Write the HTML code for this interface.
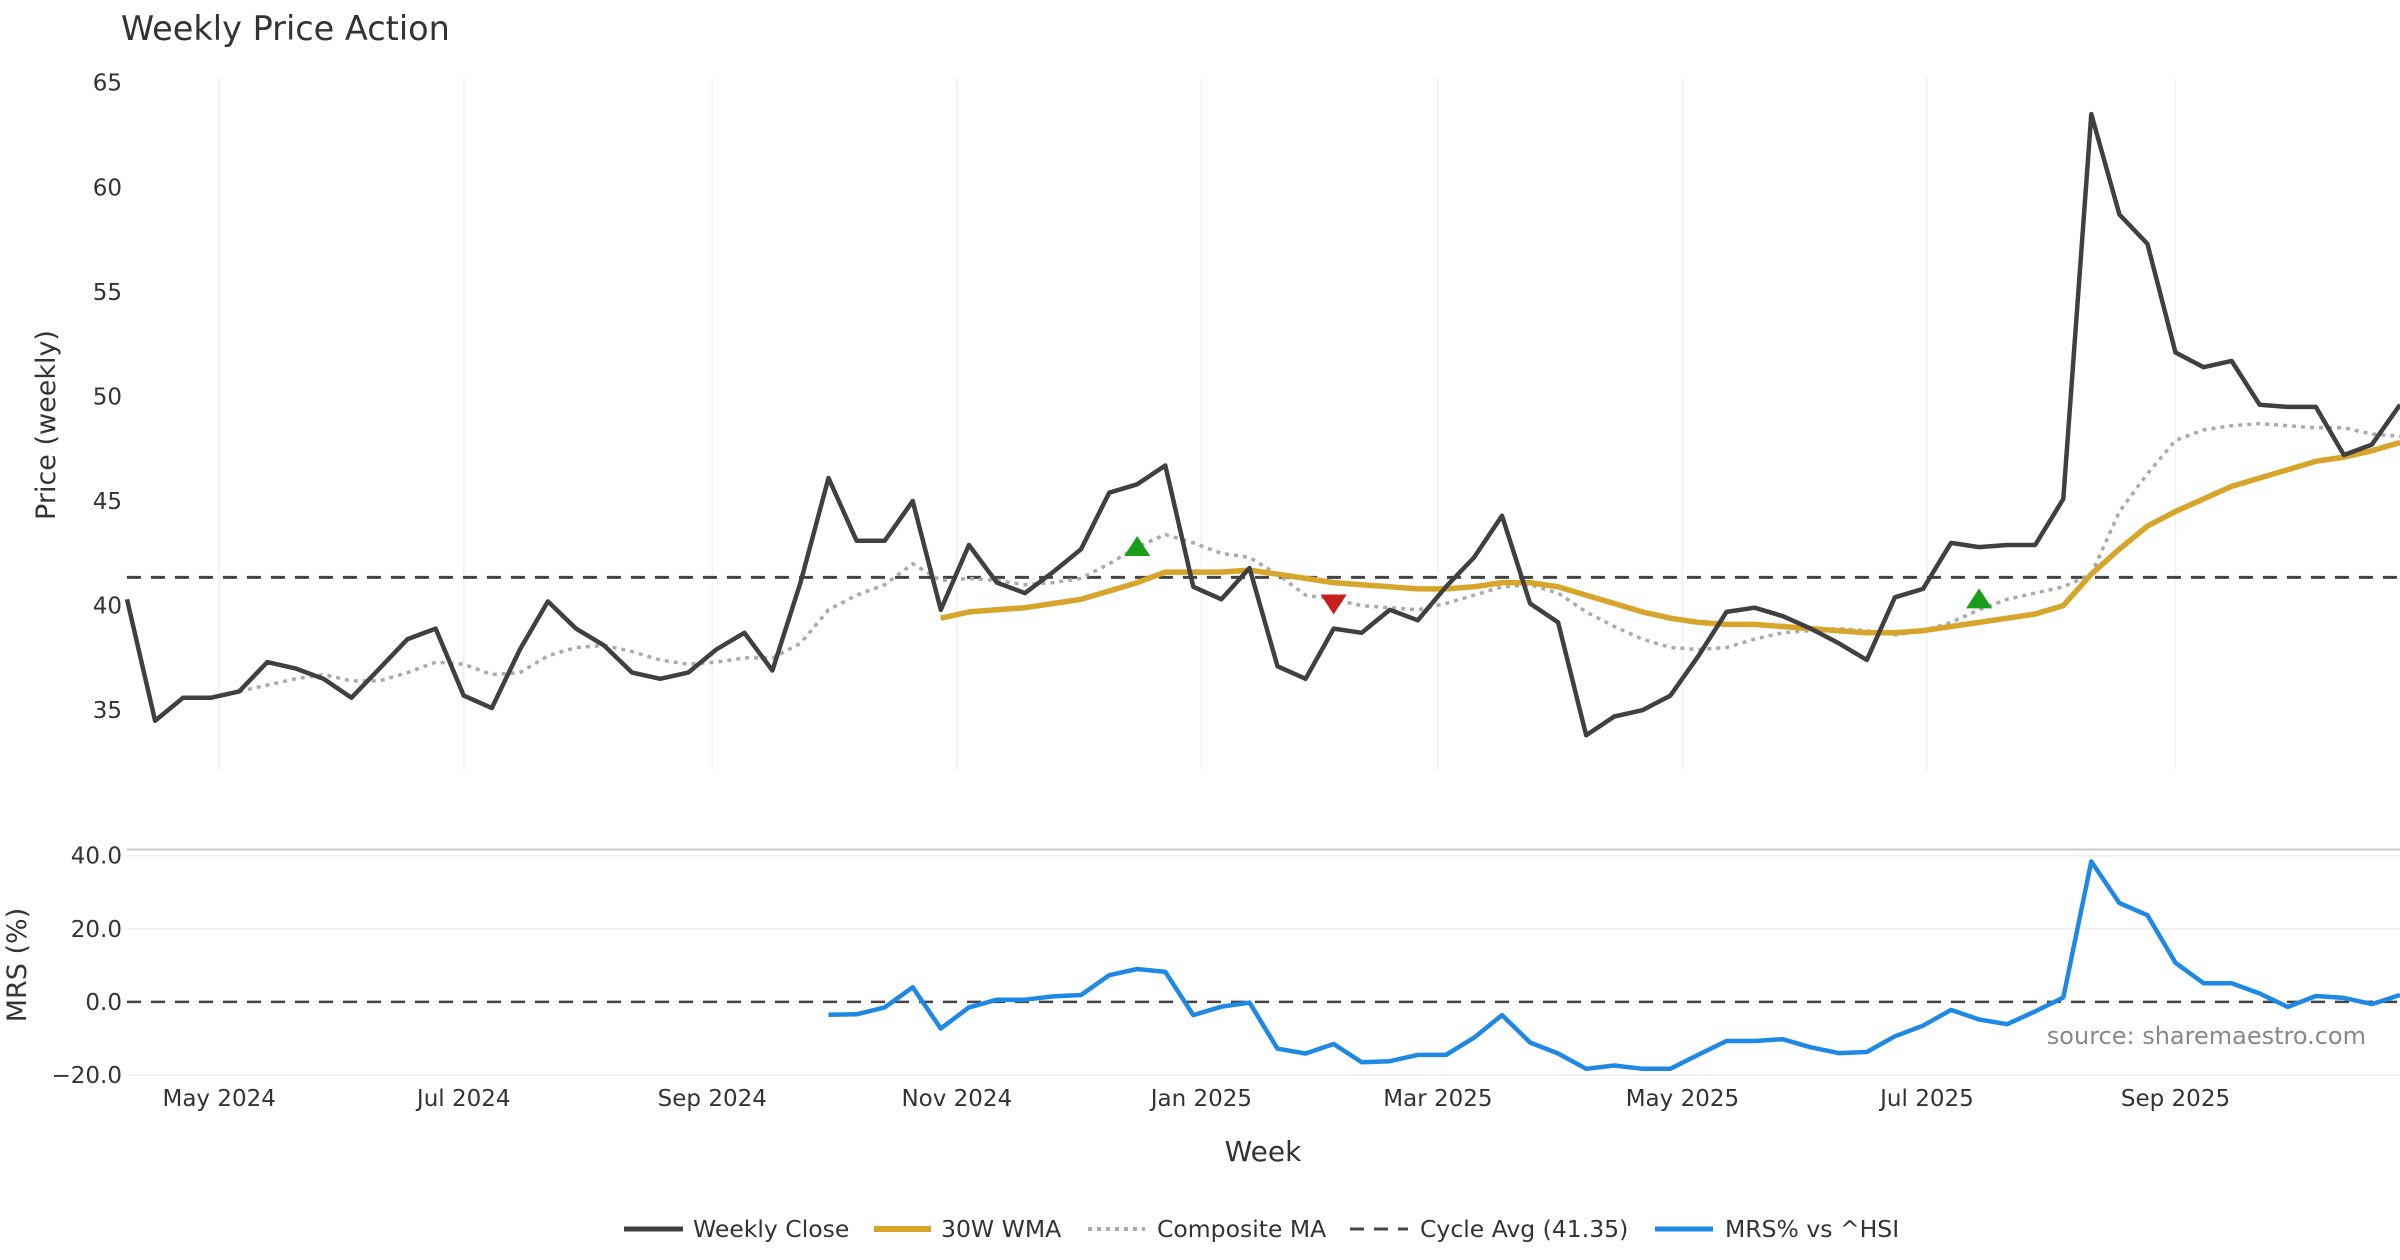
<!DOCTYPE html>
<html><head><meta charset="utf-8">
<style>
html,body{margin:0;padding:0;background:#fff;}
svg{display:block;font-family:"DejaVu Sans","Liberation Sans",sans-serif;}
</style></head>
<body>
<svg id="chart" width="2400" height="1260" viewBox="0 0 2400 1260" xmlns="http://www.w3.org/2000/svg">
<rect width="2400" height="1260" fill="#fff"/>
<text x="121" y="40" font-size="33.5" fill="#333">Weekly Price Action</text>
<g id="grid"></g>
<g id="marks"></g>
<g id="axes"></g>
<text x="1263" y="1161" font-size="28" fill="#333" text-anchor="middle">Week</text>
<text transform="translate(55,425) rotate(-90)" font-size="27" fill="#333" text-anchor="middle">Price (weekly)</text>
<text transform="translate(26,965) rotate(-90)" font-size="27" fill="#333" text-anchor="middle">MRS (%)</text>
<text x="2366" y="1044" font-size="24" fill="#888" text-anchor="end">source: sharemaestro.com</text>
<g id="legend">
  <line x1="624" y1="1229" x2="683" y2="1229" stroke="#404040" stroke-width="5"/>
  <text x="693" y="1237" font-size="23.5" fill="#333">Weekly Close</text>
  <line x1="874" y1="1229" x2="931" y2="1229" stroke="#d6a52a" stroke-width="6"/>
  <text x="941" y="1237" font-size="23.5" fill="#333">30W WMA</text>
  <line x1="1088" y1="1229" x2="1145" y2="1229" stroke="#aaa" stroke-width="4" stroke-dasharray="4,5"/>
  <text x="1157" y="1237" font-size="23.5" fill="#333">Composite MA</text>
  <line x1="1350" y1="1229" x2="1408" y2="1229" stroke="#444" stroke-width="3" stroke-dasharray="14,10"/>
  <text x="1420" y="1237" font-size="23.5" fill="#333">Cycle Avg (41.35)</text>
  <line x1="1655" y1="1229" x2="1713" y2="1229" stroke="#1e88e5" stroke-width="5"/>
  <text x="1725" y="1237" font-size="23.5" fill="#333">MRS% vs ^HSI</text>
</g>
</svg>
<script>
const closeVals=[40.3,34.5,35.6,35.6,35.9,37.3,37.0,36.5,35.6,37.0,38.4,38.9,35.7,35.1,37.9,40.2,38.9,38.1,36.8,36.5,36.8,37.9,38.7,36.9,41.1,46.1,43.1,43.1,45.0,39.8,42.9,41.1,40.6,41.6,42.7,45.4,45.8,46.7,40.9,40.3,41.8,37.1,36.5,38.9,38.7,39.8,39.3,40.9,42.3,44.3,40.1,39.2,33.8,34.7,35.0,35.7,37.6,39.7,39.9,39.5,38.9,38.2,37.4,40.4,40.8,43.0,42.8,42.9,42.9,45.1,63.5,58.7,57.3,52.1,51.4,51.7,49.6,49.5,49.5,47.2,47.7,49.6];
const wmaStart=29;
const wmaVals=[39.4,39.7,39.8,39.9,40.1,40.3,40.7,41.1,41.6,41.6,41.6,41.7,41.5,41.3,41.1,41.0,40.9,40.8,40.8,40.9,41.1,41.1,40.9,40.5,40.1,39.7,39.4,39.2,39.1,39.1,39.0,38.9,38.8,38.7,38.7,38.8,39.0,39.2,39.4,39.6,40.0,41.5,42.7,43.8,44.5,45.1,45.7,46.1,46.5,46.9,47.1,47.4,47.8];
const compStart=4;
const compVals=[35.9,36.2,36.5,36.7,36.4,36.4,36.8,37.3,37.2,36.7,36.8,37.6,38.0,38.1,37.8,37.4,37.2,37.3,37.5,37.5,38.2,39.8,40.5,41.0,42.0,41.2,41.3,41.2,41.0,41.1,41.3,42.0,42.8,43.4,43.0,42.5,42.3,41.5,40.5,40.3,40.0,39.9,39.8,40.1,40.5,40.9,41.0,40.6,39.7,39.0,38.4,38.0,37.9,38.0,38.4,38.7,38.8,38.9,38.8,38.6,38.8,39.2,39.8,40.3,40.6,40.9,41.5,44.5,46.3,47.9,48.4,48.6,48.7,48.6,48.5,48.5,48.2,48.1];
const mrsStart=25;
const mrsVals=[-3.5,-3.4,-1.5,4.0,-7.3,-1.5,0.6,0.6,1.5,1.9,7.3,9.0,8.2,-3.6,-1.3,-0.2,-12.8,-14.1,-11.5,-16.5,-16.2,-14.5,-14.5,-9.8,-3.6,-11.1,-14.1,-18.3,-17.4,-18.3,-18.3,-14.4,-10.7,-10.7,-10.2,-12.4,-14.0,-13.7,-9.4,-6.5,-2.2,-4.8,-6.1,-2.6,1.2,38.4,27.0,23.7,10.7,5.1,5.1,2.3,-1.4,1.6,1.1,-0.6,1.9];
const buyIdx=[36,66];
const buyVals=[42.8,40.3];
const sellIdx=[43];
const sellVals=[40.1];
const cycleAvg=41.35;
const priceTicks=[35,40,45,50,55,60,65];
const mrsTicks=[-20,0,20,40];
const mrsTickLabels=["\u221220.0","0.0","20.0","40.0"];
const dateTicks=["2024-05-01","2024-07-01","2024-09-01","2024-11-01","2025-01-01","2025-03-01","2025-05-01","2025-07-01","2025-09-01"];
const dateTickLabels=["May 2024","Jul 2024","Sep 2024","Nov 2024","Jan 2025","Mar 2025","May 2025","Jul 2025","Sep 2025"];
const firstWeek="2024-04-08";

const NS="http://www.w3.org/2000/svg";
const X0=127,X1=2400,N=closeVals.length;
const xi=i=>X0+i*(X1-X0)/(N-1);
const t0=Date.parse(firstWeek);
const xd=d=>xi((Date.parse(d)-t0)/(7*86400000));
const yp=v=>82.7+(65-v)*(710.2-82.7)/30;
const ym=v=>1001.9-v*(1001.9-855.6)/40;
function el(tag,attrs,parent){const e=document.createElementNS(NS,tag);for(const k in attrs)e.setAttribute(k,attrs[k]);parent.appendChild(e);return e;}
const grid=document.getElementById('grid'),marks=document.getElementById('marks'),axes=document.getElementById('axes');

dateTicks.forEach((d,k)=>{
  const x=xd(d);
  const g=el('line',{x1:x,y1:78,x2:x,y2:770,stroke:'#edf2f2','stroke-width':1.5},grid);
  
  
  const t=el('text',{x:x,y:1106,'font-size':23,fill:'#333','text-anchor':'middle'},axes);
  t.textContent=dateTickLabels[k];
  
  
});
priceTicks.forEach(v=>{
  const t=el('text',{x:122,y:yp(v)+8,'font-size':23,fill:'#333','text-anchor':'end'},axes);
  t.textContent=v;
  
  
});
const sep=el('line',{x1:127,y1:849.5,x2:2400,y2:849.5,stroke:'#ccc','stroke-width':2},grid);


mrsTicks.forEach((v,k)=>{
  if(v!==0){const g=el('line',{x1:127,y1:ym(v),x2:2400,y2:ym(v),stroke:'#eeeeee','stroke-width':1.5},grid);
  
  }
  const t=el('text',{x:122,y:ym(v)+8,'font-size':23,fill:'#333','text-anchor':'end'},axes);
  t.textContent=mrsTickLabels[k];
  
  
});
const cyc=el('line',{x1:127,y1:yp(cycleAvg),x2:2400,y2:yp(cycleAvg),stroke:'#444','stroke-width':3,'stroke-dasharray':'14,10'},marks);


const z=el('line',{x1:127,y1:ym(0),x2:2400,y2:ym(0),stroke:'#444','stroke-width':2.5,'stroke-dasharray':'14,10'},marks);



function pts(vals,start,yf){return vals.map((v,i)=>xi(start+i).toFixed(1)+','+yf(v).toFixed(1)).join(' ');}
const comp=el('polyline',{points:pts(compVals,compStart,yp),fill:'none',stroke:'#aaa','stroke-width':3.5,'stroke-dasharray':'4,5'},marks);


const wma=el('polyline',{points:pts(wmaVals,wmaStart,yp),fill:'none',stroke:'#d6a52a','stroke-width':5.5,'stroke-linejoin':'round'},marks);


const cl=el('polyline',{points:pts(closeVals,0,yp),fill:'none',stroke:'#404040','stroke-width':4.5,'stroke-linejoin':'round'},marks);


const mr=el('polyline',{points:pts(mrsVals,mrsStart,ym),fill:'none',stroke:'#1e88e5','stroke-width':4.5,'stroke-linejoin':'round'},marks);


buyIdx.forEach((i,k)=>{
  const x=xi(i),y=yp(buyVals[k]);
  const p=el('polygon',{points:`${x-13},${y+9} ${x+13},${y+9} ${x},${y-11}`,fill:'#1a9e1a'},marks);
  
  
});
sellIdx.forEach((i,k)=>{
  const x=xi(i),y=yp(sellVals[k]);
  const p=el('polygon',{points:`${x-13},${y-9} ${x+13},${y-9} ${x},${y+11}`,fill:'#c81e1e'},marks);
  
  
});
</script>
</body></html>
